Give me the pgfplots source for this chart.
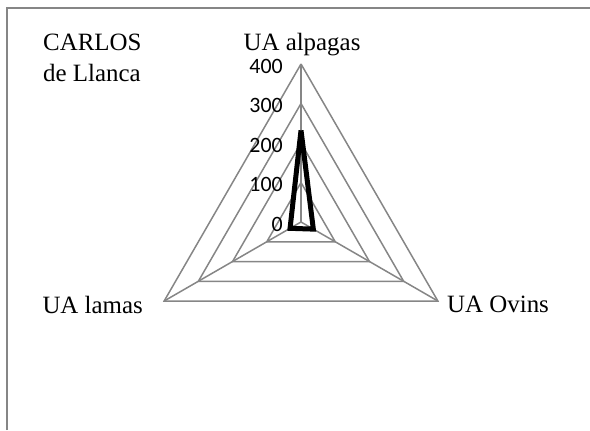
\documentclass[border=0pt]{standalone}
\usepackage{pgfplots}
\pgfplotsset{compat=1.18}
\usepackage{fontspec}
\setmainfont{Liberation Serif}
\newfontfamily\calibri{Carlito}

\definecolor{gridgray}{HTML}{868686}

\begin{document}
\begin{tikzpicture}[x=1bp,y=1bp]
\path[use as bounding box] (0,0) rectangle (590,430);
% frame (only top and left edges are visible)
\draw[gridgray,line width=2bp] (7,0) -- (7,422) -- (590,422);

\begin{axis}[
  x=0.395bp, y=0.395bp,
  hide axis, clip=false,
  xmin=-400, xmax=400, ymin=-250, ymax=420,
  anchor=origin, at={(301bp,208bp)},
  data cs=polar,
]
% rings
\addplot[gridgray,line width=1.5bp,no marks] coordinates {(90,100)(210,100)(330,100)(90,100)};
\addplot[gridgray,line width=1.5bp,no marks] coordinates {(90,200)(210,200)(330,200)(90,200)};
\addplot[gridgray,line width=1.5bp,no marks] coordinates {(90,300)(210,300)(330,300)(90,300)};
\addplot[gridgray,line width=1.5bp,no marks] coordinates {(90,400)(210,400)(330,400)(90,400)};
% spokes
\addplot[gridgray,line width=1.5bp,no marks] coordinates {(90,0)(90,400)};
\addplot[gridgray,line width=1.5bp,no marks] coordinates {(210,0)(210,400)};
\addplot[gridgray,line width=1.5bp,no marks] coordinates {(330,0)(330,400)};
% data: alpagas, ovins, lamas
\addplot[black,line width=5bp,no marks] coordinates {(90,232)(330,36)(210,32)(90,232)};
\end{axis}

% radial tick labels
\foreach \v in {0,100,200,300,400}
  \node[anchor=east,inner sep=0,font=\calibri\fontsize{22}{26}\selectfont]
    at (283,{206+0.395*\v}) {\v};

% category labels
\node[anchor=base,inner sep=0,font=\fontsize{25}{30}\selectfont] at (302,380) {UA alpagas};
\node[anchor=base east,inner sep=0,font=\fontsize{25}{30}\selectfont] at (143,117) {UA lamas};
\node[anchor=base west,inner sep=0,font=\fontsize{25}{30}\selectfont] at (447,118) {UA Ovins};

% title
\node[anchor=base west,inner sep=0,font=\fontsize{25}{30}\selectfont] at (43,380) {CARLOS};
\node[anchor=base west,inner sep=0,font=\fontsize{25}{30}\selectfont] at (43,349) {de Llanca};
\end{tikzpicture}
\end{document}
